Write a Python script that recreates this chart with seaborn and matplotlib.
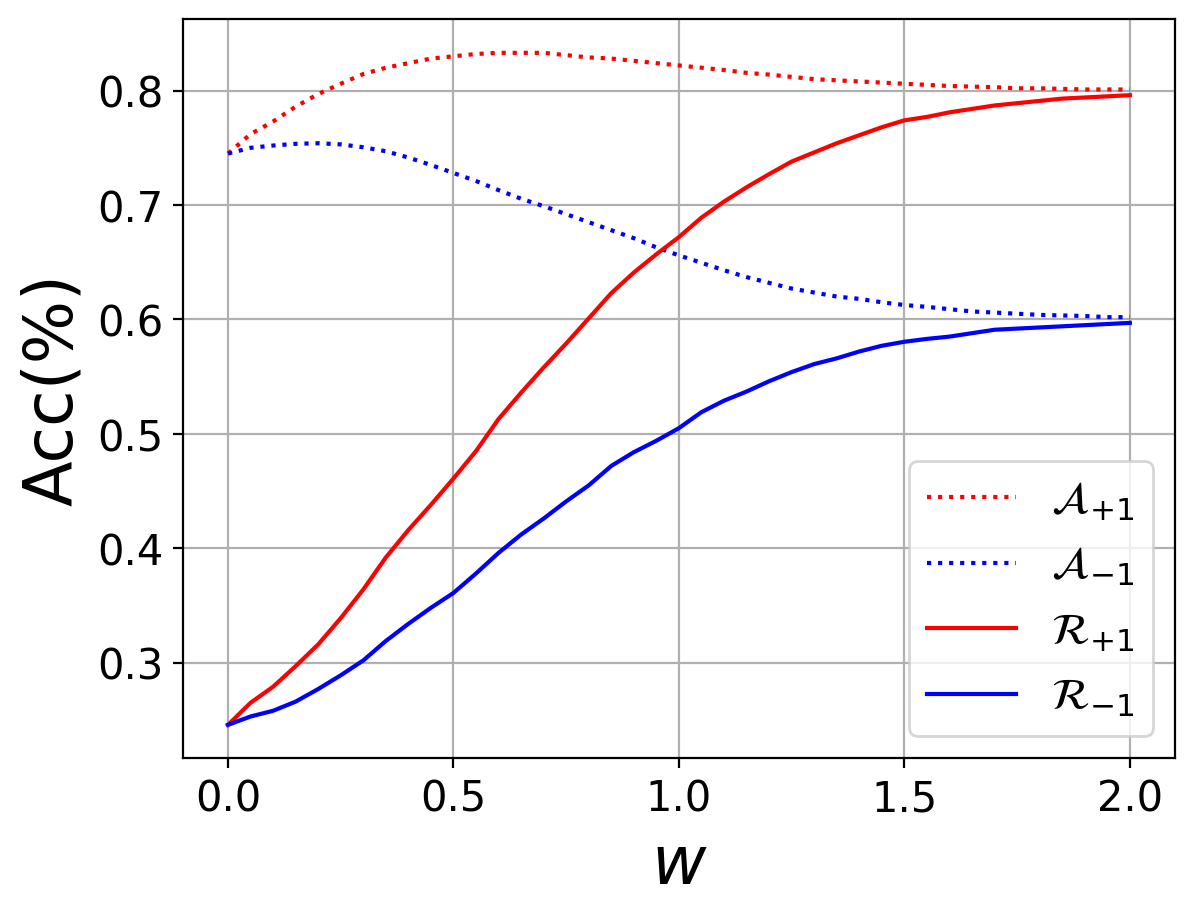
import matplotlib
matplotlib.use("Agg")
import matplotlib.pyplot as plt
import seaborn as sns
import pandas as pd

w = [0.0, 0.05, 0.1, 0.15, 0.2, 0.25, 0.3, 0.35, 0.4, 0.45, 0.5, 0.55, 0.6, 0.65, 0.7,
     0.75, 0.8, 0.85, 0.9, 0.95, 1.0, 1.05, 1.1, 1.15, 1.2, 1.25, 1.3, 1.35, 1.4, 1.45,
     1.5, 1.55, 1.6, 1.65, 1.7, 1.75, 1.8, 1.85, 1.9, 1.95, 2.0]

a_plus = [0.745, 0.762, 0.773, 0.786, 0.797, 0.806, 0.8145, 0.820, 0.824, 0.828, 0.830,
          0.832, 0.833, 0.833, 0.833, 0.831, 0.829, 0.828, 0.826, 0.824, 0.822, 0.820,
          0.818, 0.8155, 0.814, 0.812, 0.810, 0.809, 0.808, 0.807, 0.806, 0.805, 0.804,
          0.8035, 0.803, 0.802, 0.802, 0.8015, 0.801, 0.801, 0.801]
a_minus = [0.745, 0.750, 0.752, 0.7535, 0.754, 0.753, 0.7505, 0.747, 0.7415, 0.735, 0.728,
           0.721, 0.713, 0.7055, 0.699, 0.692, 0.685, 0.678, 0.671, 0.663, 0.656, 0.6495,
           0.643, 0.637, 0.632, 0.627, 0.6235, 0.620, 0.618, 0.615, 0.6126, 0.611, 0.609,
           0.607, 0.606, 0.605, 0.604, 0.6035, 0.603, 0.602, 0.602]
r_plus = [0.2457, 0.265, 0.279, 0.297, 0.316, 0.339, 0.364, 0.392, 0.416, 0.438, 0.461,
          0.485, 0.513, 0.536, 0.558, 0.579, 0.601, 0.623, 0.641, 0.657, 0.672, 0.689,
          0.703, 0.7155, 0.727, 0.738, 0.746, 0.754, 0.761, 0.768, 0.774, 0.777, 0.781,
          0.784, 0.787, 0.789, 0.791, 0.793, 0.794, 0.795, 0.796]
r_minus = [0.2457, 0.253, 0.258, 0.266, 0.277, 0.289, 0.302, 0.319, 0.334, 0.348, 0.361,
           0.378, 0.396, 0.412, 0.426, 0.441, 0.455, 0.472, 0.484, 0.494, 0.505, 0.519,
           0.529, 0.537, 0.546, 0.554, 0.561, 0.566, 0.572, 0.577, 0.5805, 0.583, 0.585,
           0.588, 0.591, 0.592, 0.593, 0.594, 0.595, 0.596, 0.597]

labels = [r"$\mathcal{A}_{+1}$", r"$\mathcal{A}_{-1}$", r"$\mathcal{R}_{+1}$", r"$\mathcal{R}_{-1}$"]
series = [a_plus, a_minus, r_plus, r_minus]
colors = ["red", "blue", "red", "blue"]
styles = [":", ":", "-", "-"]

fig, ax = plt.subplots(figsize=(6.4, 4.8), dpi=200)
for lab, vals, c, ls in zip(labels, series, colors, styles):
    df = pd.DataFrame({"w": w, "acc": vals})
    sns.lineplot(data=df, x="w", y="acc", color=c, linestyle=ls, label=lab, ax=ax, linewidth=1.5)

ax.grid(True)
ax.set_xlabel(r"$w$", fontsize=24)
ax.set_ylabel("Acc(%)", fontsize=24)
ax.tick_params(labelsize=15)
ax.set_xticks([0.0, 0.5, 1.0, 1.5, 2.0])
ax.legend(loc="lower right", fontsize=16)
fig.savefig("out.png", dpi=200, bbox_inches="tight")
